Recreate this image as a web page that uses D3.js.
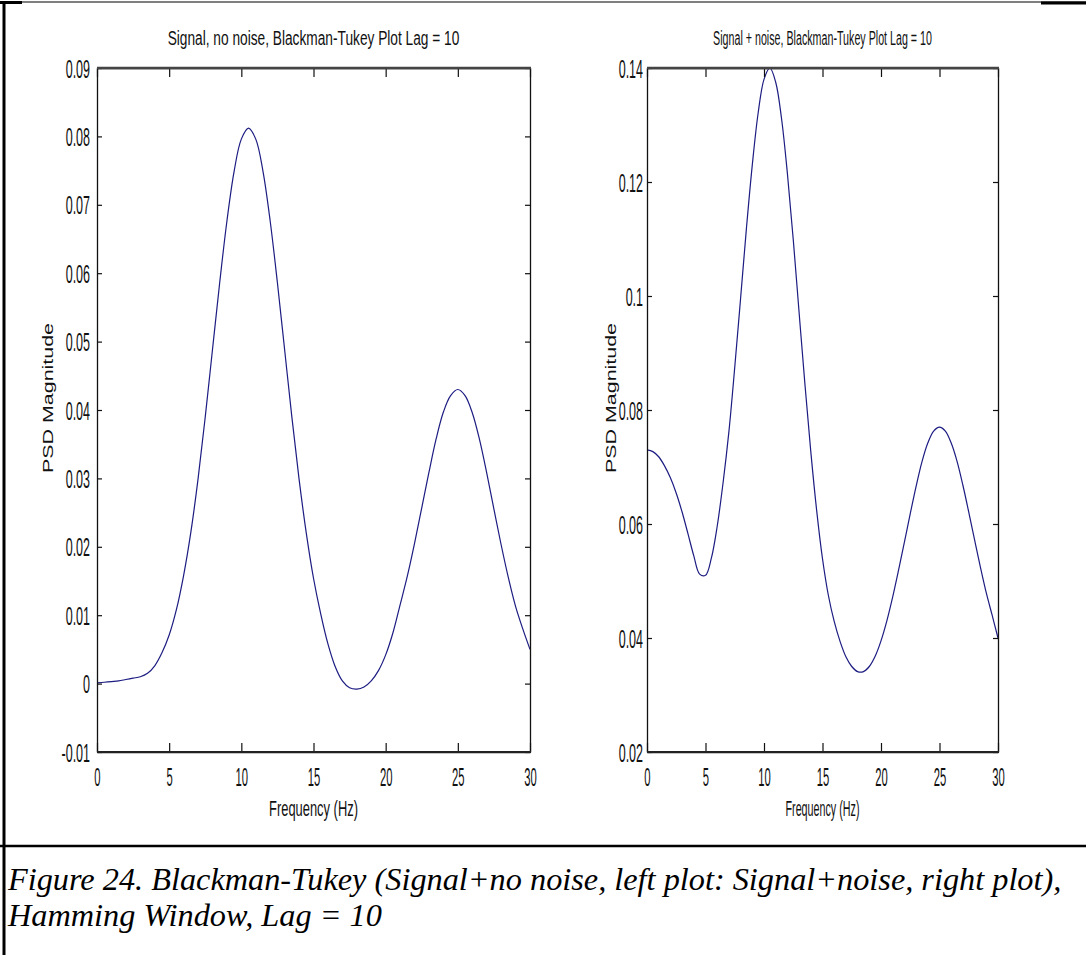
<!DOCTYPE html>
<html>
<head>
<meta charset="utf-8">
<script src="https://cdn.jsdelivr.net/npm/d3@7"></script>
<style>
  body { margin: 0; background: #fff; }
  .tick-lbl { font-family: "Liberation Sans", Arial, sans-serif; font-size: 25px; fill: #111; }
  .mat-text { font-family: "Liberation Sans", Arial, sans-serif; fill: #111; }
  .caption { font-family: "Liberation Serif", "Times New Roman", serif; font-style: italic; font-size: 32.3px; fill: #000; }
</style>
</head>
<body>
<div id="figure_24"></div>
<script>
// data (Hamming window, lag 10)
var freqHz = [0, 0.5, 1, 1.5, 2, 2.5, 3, 3.5, 4, 4.5, 5, 5.5, 6, 6.5, 7, 7.5, 8, 8.5, 9, 9.5,
  10, 10.5, 11, 11.5, 12, 12.5, 13, 13.5, 14, 14.5, 15, 15.5, 16, 16.5, 17, 17.5, 18, 18.5, 19, 19.5,
  20, 20.5, 21, 21.5, 22, 22.5, 23, 23.5, 24, 24.5, 25, 25.5, 26, 26.5, 27, 27.5, 28, 28.5, 29, 29.5, 30]

var psdNoNoise = [0.0001, 0.0002, 0.0003, 0.0004, 0.0006, 0.0008, 0.0010, 0.0015, 0.0026, 0.0045,
  0.0071, 0.0108, 0.0158, 0.0221, 0.0299, 0.0390, 0.0488, 0.0586, 0.0676, 0.0749,
  0.0796, 0.0812, 0.0796, 0.0749, 0.0676, 0.0586, 0.0488, 0.0390, 0.0299, 0.0220,
  0.0154, 0.0102, 0.0058, 0.0025, 0.0004, -0.0006, -0.0008, -0.0005, 0.0004, 0.0019,
  0.0042, 0.0074, 0.0115, 0.0157, 0.0205, 0.0257, 0.0309, 0.0358, 0.0397, 0.0421,
  0.0430, 0.0421, 0.0396, 0.0357, 0.0308, 0.0255, 0.0203, 0.0155, 0.0113, 0.0080, 0.0050]

var psdNoise = [0.0730, 0.0727, 0.0718, 0.0702, 0.0681, 0.0654, 0.0621, 0.0583, 0.0544, 0.0512,
  0.0510, 0.0540, 0.0596, 0.0672, 0.0762, 0.0875, 0.0996, 0.1119, 0.1230, 0.1321,
  0.1380, 0.1400, 0.1375, 0.1311, 0.1215, 0.1099, 0.0971, 0.0845, 0.0727, 0.0624,
  0.0539, 0.0475, 0.0429, 0.0394, 0.0367, 0.0350, 0.0341, 0.0341, 0.0350, 0.0368,
  0.0395, 0.0430, 0.0472, 0.0519, 0.0568, 0.0618, 0.0666, 0.0709, 0.0742, 0.0763,
  0.0770, 0.0763, 0.0742, 0.0710, 0.0668, 0.0621, 0.0572, 0.0524, 0.0479, 0.0440, 0.0400]

var xTicks = [0, 5, 10, 15, 20, 25, 30]
var xTickLabels = ["0", "5", "10", "15", "20", "25", "30"]
var leftYTicks = [-0.01, 0, 0.01, 0.02, 0.03, 0.04, 0.05, 0.06, 0.07, 0.08, 0.09]
var leftYLabels = ["-0.01", "0", "0.01", "0.02", "0.03", "0.04", "0.05", "0.06", "0.07", "0.08", "0.09"]
var rightYTicks = [0.02, 0.04, 0.06, 0.08, 0.1, 0.12, 0.14]
var rightYLabels = ["0.02", "0.04", "0.06", "0.08", "0.1", "0.12", "0.14"]

var titles = ["Signal, no noise, Blackman-Tukey Plot Lag = 10", "Signal + noise, Blackman-Tukey Plot Lag = 10"]
var xLabel = "Frequency (Hz)"
var yLabel = "PSD Magnitude"
var captionLines = ["Figure 24. Blackman-Tukey (Signal+no noise, left plot: Signal+noise, right plot),",
  "Hamming Window, Lag = 10"]

var width = 1086
    height = 955
    plot_top = 68
    plot_bottom = 752
    line_color = "#1c1c82"

var svg = d3.select("#figure_24")
    .append("svg")
    .attr("width", width)
    .attr("height", height);

svg.append("rect").attr("width", width).attr("height", height).attr("fill", "#fff");

// squeeze a text horizontally to a given width (MATLAB export is narrow)
function squeeze(sel, target) {
  sel.each(function() {
    var w = this.getComputedTextLength()
    var x = +this.getAttribute("x") || 0
    var y = +this.getAttribute("y") || 0
    d3.select(this).attr("transform",
      "translate(" + x + "," + y + ") scale(" + (target / w) + ",1) translate(" + (-x) + "," + (-y) + ")")
  })
}

// -----------------------------------------------------------------------------
// one MATLAB style box axes
function drawPanel(cfg) {
  var x = d3.scaleLinear().domain([0, 30]).range([cfg.left, cfg.right])
  var y = d3.scaleLinear().domain(cfg.yDomain).range([plot_bottom, plot_top])
  var g = svg.append("g")

  // clip so the curve stays in the box
  g.append("clipPath").attr("id", cfg.id + "_clip")
    .append("rect")
    .attr("x", cfg.left).attr("y", plot_top)
    .attr("width", cfg.right - cfg.left).attr("height", plot_bottom - plot_top)

  var line = d3.line()
    .x(function(d, i) { return x(freqHz[i]); })
    .y(function(d) { return y(d); })
    .curve(d3.curveCatmullRom)

  g.append("path")
    .attr("clip-path", "url(#" + cfg.id + "_clip)")
    .attr("d", line(cfg.values))
    .attr("fill", "none")
    .attr("stroke", line_color)
    .attr("stroke-width", 1.2)

  // bottom axis with labels, ticks inward
  var bottom = g.append("g")
    .attr("transform", "translate(0," + plot_bottom + ")")
    .call(d3.axisBottom(x).tickValues(xTicks).tickSizeInner(-9).tickSizeOuter(0)
      .tickFormat(function(d, i) { return xTickLabels[i]; }))
  bottom.selectAll("text")
    .attr("class", "tick-lbl")
    .attr("y", 34).attr("dy", 0)
    .attr("transform", "scale(" + cfg.xLblScale + ",1)")

  // top axis, no labels
  g.append("g")
    .attr("transform", "translate(0," + plot_top + ")")
    .call(d3.axisTop(x).tickValues(xTicks).tickSizeInner(-9).tickSizeOuter(0).tickFormat(""))

  // left axis with labels
  var left = g.append("g")
    .attr("transform", "translate(" + cfg.left + ",0)")
    .call(d3.axisLeft(y).tickValues(cfg.yTicks).tickSizeInner(-5).tickSizeOuter(0)
      .tickFormat(function(d, i) { return cfg.yLabels[i]; }))
  left.selectAll("text")
    .attr("class", "tick-lbl")
    .attr("x", 0)
    .attr("dy", "0.36em")
    .attr("transform", "translate(" + (-cfg.yLblGap) + ",0) scale(0.5,1)")

  g.append("g")
    .attr("transform", "translate(" + cfg.right + ",0)")
    .call(d3.axisRight(y).tickValues(cfg.yTicks).tickSizeInner(-5).tickSizeOuter(0).tickFormat(""))

  g.selectAll(".tick line").attr("stroke", "#111").attr("stroke-width", 1.2)
  g.selectAll(".domain").attr("stroke", "#111").attr("stroke-width", 1.3)
  // top and bottom edges look heavier in the scan
  svg.append("line")
    .attr("x1", cfg.left).attr("x2", cfg.right + 1)
    .attr("y1", plot_top).attr("y2", plot_top)
    .attr("stroke", "#444").attr("stroke-width", 2.5)
  svg.append("line")
    .attr("x1", cfg.left).attr("x2", cfg.right + 1)
    .attr("y1", plot_bottom).attr("y2", plot_bottom)
    .attr("stroke", "#222").attr("stroke-width", 2)

  var cx = (cfg.left + cfg.right) / 2
  // title
  g.append("text")
    .attr("class", "mat-text")
    .attr("x", cx).attr("y", 45)
    .attr("text-anchor", "middle")
    .style("font-size", "21px")
    .text(cfg.title)
    .call(squeeze, cfg.titleLen)
  // x axis title
  g.append("text")
    .attr("class", "mat-text")
    .attr("x", cx).attr("y", 816)
    .attr("text-anchor", "middle")
    .style("font-size", "22px")
    .text(xLabel)
    .call(squeeze, cfg.xLabLen)
  // y axis title
  g.append("text")
    .attr("class", "mat-text")
    .attr("text-anchor", "middle")
    .attr("transform", "translate(" + cfg.yLabX + ",398)rotate(-90)")
    .style("font-size", "15px")
    .attr("textLength", 150)
    .attr("lengthAdjust", "spacingAndGlyphs")
    .text(yLabel)
}

drawPanel({id: "left", left: 97, right: 530, yDomain: [-0.01, 0.09], yTicks: leftYTicks, yLabels: leftYLabels,
  values: psdNoNoise, title: titles[0], titleLen: 292, xLabLen: 89, yLabX: 53, yLblGap: 7, xLblScale: 0.45})
drawPanel({id: "right", left: 647, right: 998, yDomain: [0.02, 0.14], yTicks: rightYTicks, yLabels: rightYLabels,
  values: psdNoise, title: titles[1], titleLen: 219, xLabLen: 74, yLabX: 616, yLblGap: 4, xLblScale: 0.45})

// -----------------------------------------------------------------------------
// page frame + caption
svg.append("line").attr("x1", 4).attr("x2", 4).attr("y1", 1).attr("y2", height)
  .attr("stroke", "#000").attr("stroke-width", 3)
svg.append("line").attr("x1", 0).attr("x2", width).attr("y1", 2).attr("y2", 2)
  .attr("stroke", "#000").attr("stroke-width", 1.2)
svg.append("line").attr("x1", 0).attr("x2", 22).attr("y1", 2.5).attr("y2", 2.5)
  .attr("stroke", "#000").attr("stroke-width", 3)
svg.append("line").attr("x1", 1041).attr("x2", width).attr("y1", 3).attr("y2", 3)
  .attr("stroke", "#000").attr("stroke-width", 3)
svg.append("line").attr("x1", 0).attr("x2", width).attr("y1", 846).attr("y2", 846)
  .attr("stroke", "#000").attr("stroke-width", 2.5)

svg.selectAll(".caption-line")
  .data(captionLines)
  .enter().append("text")
  .attr("class", "caption")
  .attr("x", 8)
  .attr("y", function(d, i) { return 890 + i * 36; })
  .text(function(d) { return d; })
</script>
</body>
</html>
